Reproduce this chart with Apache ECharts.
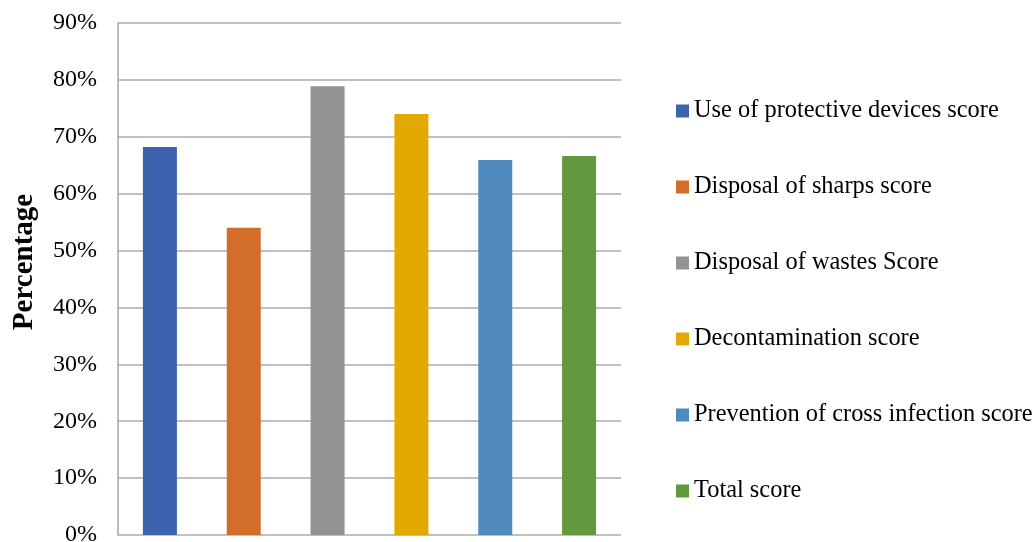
<!DOCTYPE html>
<html>
<head>
<meta charset="utf-8">
<script src="https://cdn.jsdelivr.net/npm/echarts@6/dist/echarts.min.js"></script>
<style>html,body{margin:0;padding:0;background:#fff;overflow:hidden}#c{width:1033px;height:542px}</style>
</head>
<body>
<div id="c"></div>
<script>
const seriesNames = [
  'Use of protective devices score',
  'Disposal of sharps score',
  'Disposal of wastes Score',
  'Decontamination score',
  'Prevention of cross infection score',
  'Total score'
];
const seriesValues = [68.2, 54.0, 78.9, 74.0, 65.9, 66.6];
const seriesColors = ['#3c64ae', '#d36d2b', '#939393', '#e2aa00', '#4f89bd', '#62993e'];
const yTicks = [0, 10, 20, 30, 40, 50, 60, 70, 80, 90];
const yTitle = 'Percentage';

const chart = echarts.init(document.getElementById('c'));
const font = '"Liberation Serif", "Times New Roman", serif';
const series = seriesNames.map((name, i) => ({
  name: name,
  type: 'bar',
  stack: 'all',
  barWidth: 34,
  itemStyle: { color: seriesColors[i] },
  data: seriesNames.map((_, j) => j === i ? seriesValues[i] : '-')
}));
chart.setOption({
  animation: false,
  textStyle: { fontFamily: font },
  grid: { left: 118, right: 412, top: 23, bottom: 7, containLabel: false, outerBoundsMode: 'none' },
  legend: {
    orient: 'vertical',
    left: 676,
    top: 99,
    padding: 0,
    itemWidth: 13,
    itemHeight: 13,
    itemGap: 52,
    icon: 'rect',
    textStyle: { fontFamily: font, fontSize: 24.4, color: '#000', padding: [0, 0, 0, 0] },
    data: seriesNames
  },
  graphic: [{
    type: 'text',
    x: 25,
    y: 262,
    rotation: Math.PI / 2,
    style: {
      text: yTitle,
      font: 'bold 29px ' + font,
      fill: '#000',
      align: 'center',
      verticalAlign: 'middle'
    }
  }],
  xAxis: {
    type: 'category',
    data: seriesNames,
    axisLabel: { show: false },
    axisTick: { show: false },
    axisLine: { show: false }
  },
  yAxis: {
    type: 'value',
    min: yTicks[0],
    max: yTicks[yTicks.length - 1],
    interval: 10,
    axisLine: { show: true, lineStyle: { color: '#a6a6a6', width: 1.5 } },
    axisTick: { show: false },
    axisLabel: { formatter: '{value}%', fontFamily: font, fontSize: 24, color: '#000', margin: 21 },
    splitLine: { lineStyle: { color: '#ababab', width: 1.5 } }
  },
  series: series
});
</script>
</body>
</html>
